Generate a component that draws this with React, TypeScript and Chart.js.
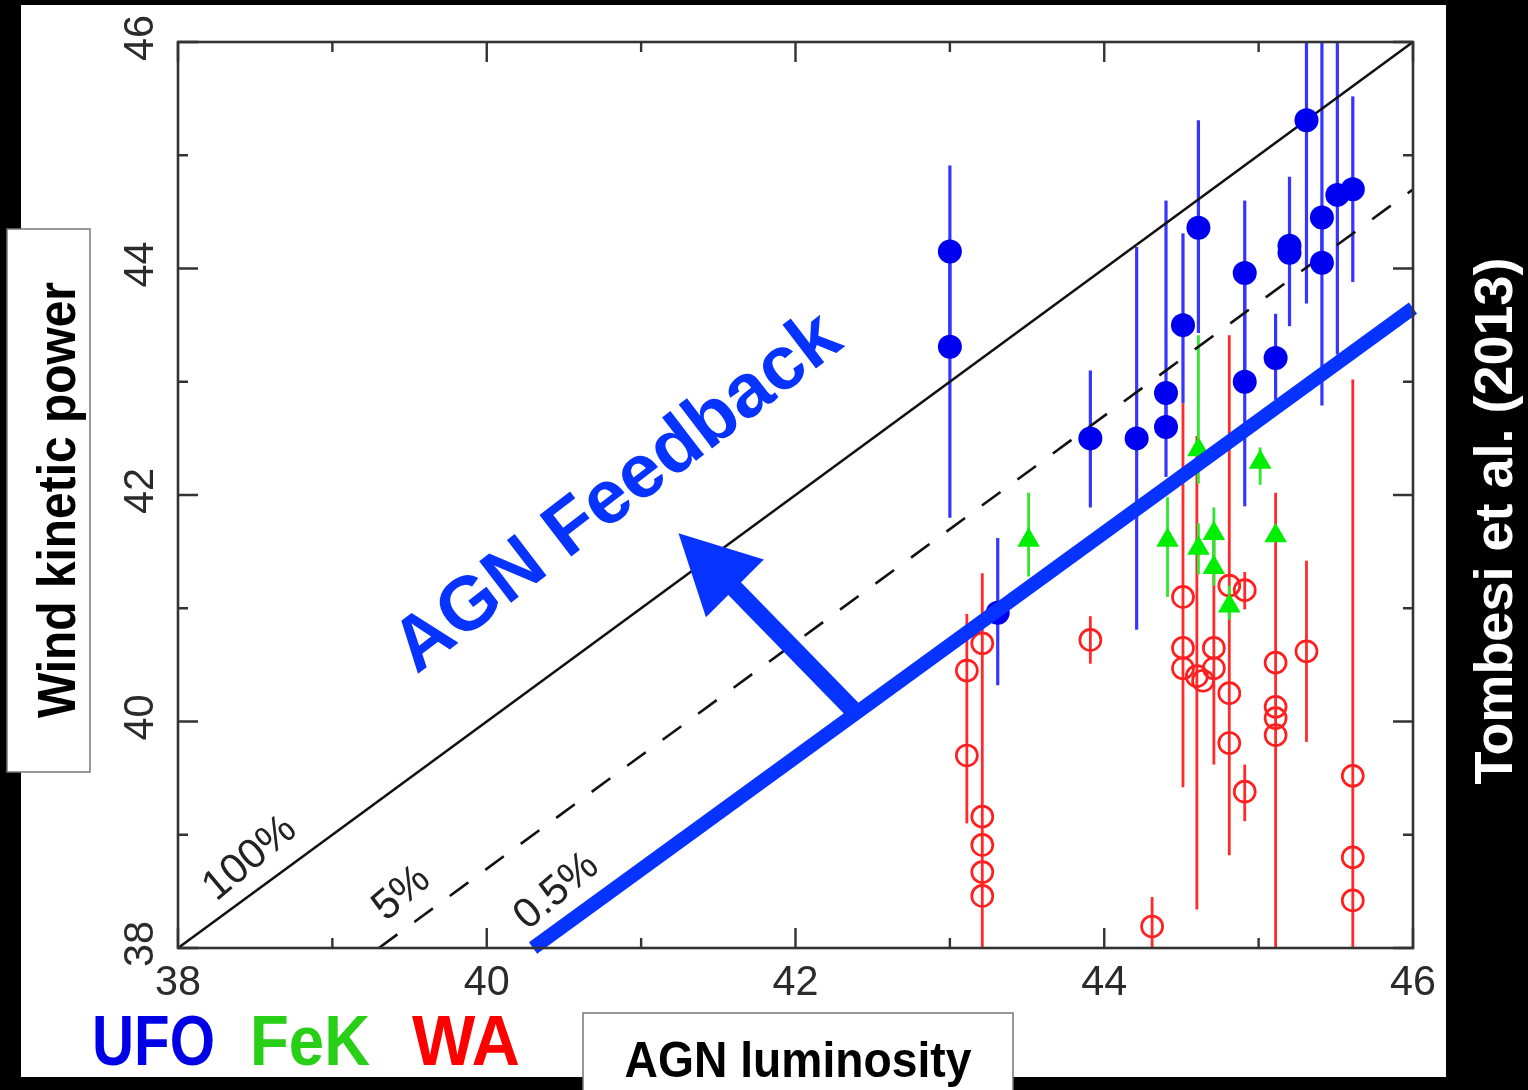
import React, { useEffect, useRef } from 'react';
import { Chart, registerables } from 'chart.js';

Chart.register(...registerables);

// ---------- axis ticks ----------
const tickValues = [38, 39, 40, 41, 42, 43, 44, 45, 46];
const xTickLabels = ['38', '', '40', '', '42', '', '44', '', '46'];
const yTickLabels = ['38', '', '40', '', '42', '', '44', '', '46'];

// ---------- UFO (blue filled circles) ----------
const ufoX = [43.0, 43.0, 43.31, 43.91, 44.21, 44.4, 44.4, 44.51, 44.61, 44.91, 44.91, 45.11, 45.2, 45.2, 45.31, 45.41, 45.41, 45.51, 45.61];
const ufoY = [44.15, 43.31, 40.96, 42.5, 42.5, 42.9, 42.6, 43.5, 44.36, 43.96, 43.0, 43.21, 44.2, 44.14, 45.31, 44.45, 44.05, 44.65, 44.7];
const ufoLo = [43.31, 41.8, 40.32, 41.89, 40.81, 42.6, 42.16, 42.81, 43.43, 43.0, 41.9, 42.84, 43.49, null, 43.69, 44.05, 42.79, 43.24, 43.88];
const ufoHi = [44.91, 44.15, 41.62, 43.1, 44.19, 44.6, 42.9, 44.31, 45.31, 44.6, 43.96, 43.6, 44.81, null, 46.5, 46.5, 44.45, 46.5, 45.52];

// ---------- FeK (green triangles) ----------
const fekX = [43.51, 44.41, 44.61, 44.61, 44.71, 44.71, 44.81, 45.01, 45.11];
const fekY = [41.6, 41.6, 42.4, 41.53, 41.66, 41.36, 41.02, 42.29, 41.64];
const fekLo = [41.28, 41.1, 42.1, 41.3, 41.4, 41.2, 40.9, 42.09, null];
const fekHi = [42.02, 41.98, 43.41, 41.75, 41.89, 41.66, 41.2, 42.42, null];

// ---------- WA (red open circles) ----------
const waX = [43.11, 43.11, 43.21, 43.21, 43.21, 43.21, 43.21, 43.91, 44.31, 44.51, 44.51, 44.51, 44.6, 44.64, 44.71, 44.71, 44.81, 44.81, 44.81, 44.91, 44.91, 45.11, 45.11, 45.11, 45.11, 45.31, 45.61, 45.61, 45.61];
const waY = [40.45, 39.7, 40.69, 39.16, 38.91, 38.67, 38.46, 40.72, 38.19, 41.1, 40.65, 40.47, 40.4, 40.36, 40.65, 40.47, 41.2, 40.25, 39.81, 41.16, 39.38, 40.52, 40.13, 40.03, 39.88, 40.62, 39.52, 38.8, 38.42];
const waLo = [39.1, null, 37.5, null, null, null, null, 40.51, 37.5, 39.42, null, null, 38.34, null, 39.62, null, 38.82, null, null, 40.99, 39.12, 37.5, null, null, null, 39.82, 37.5, null, null];
const waHi = [40.95, null, 41.31, null, null, null, null, 40.93, 38.45, 42.81, null, null, 42.52, null, 41.63, null, 43.41, null, null, 41.32, 39.62, 42.02, null, null, null, 41.42, 43.02, null, null];

// ---------- efficiency lines ----------
const line100X = [38, 46];
const line100Y = [38, 46];
const line5X = [39.301, 46];
const line5Y = [38, 44.699];
const line05X = [40.3, 46];
const line05Y = [38, 43.65];
const lineLabels = ['100%', '5%', '0.5%'];
const lineLabelX = [38.466, 39.449, 40.453];
const lineLabelY = [38.79, 38.48, 38.5];

// ---------- annotation ----------
const feedbackText = 'AGN Feedback';
const feedbackAnchor = [39.545, 40.41];
const arrowBase = [42.385, 40.084];
const arrowTip = [41.242, 41.662];
const arrowWingA = [41.42, 40.92];
const arrowWingB = [41.795, 41.43];

const legendLabels = ['UFO', 'FeK', 'WA'];
const legendColors = ['#0000e6', '#27cf17', '#ff0000'];

const FONT = '"Liberation Sans", Arial, Helvetica, sans-serif';

function pts(xs: number[], ys: number[]) {
  return xs.map((x, i) => ({ x, y: ys[i] }));
}

export default function App() {
  const ref = useRef<HTMLCanvasElement>(null);

  useEffect(() => {
    const canvas = ref.current;
    if (!canvas) return;

    const bgPlugin = {
      id: 'bg',
      beforeDraw(chart: any) {
        const ctx = chart.ctx;
        ctx.save();
        ctx.fillStyle = '#000';
        ctx.fillRect(0, 0, chart.width, chart.height);
        ctx.fillStyle = '#fff';
        ctx.fillRect(21, 5, 1425, 1072);
        ctx.restore();
      },
    };

    const errPlugin = {
      id: 'errbars',
      beforeDatasetsDraw(chart: any) {
        const ctx = chart.ctx;
        const xs = chart.scales.x;
        const ys = chart.scales.y;
        const a = chart.chartArea;
        ctx.save();
        ctx.beginPath();
        ctx.rect(a.left, a.top, a.right - a.left, a.bottom - a.top);
        ctx.clip();
        const draw = (X: number[], L: (number | null)[], H: (number | null)[], color: string, w: number) => {
          ctx.strokeStyle = color;
          ctx.lineWidth = w;
          ctx.lineCap = 'butt';
          X.forEach((x, i) => {
            const lo = L[i];
            const hi = H[i];
            if (lo == null || hi == null) return;
            const px = xs.getPixelForValue(x);
            ctx.beginPath();
            ctx.moveTo(px, ys.getPixelForValue(lo));
            ctx.lineTo(px, ys.getPixelForValue(hi));
            ctx.stroke();
          });
        };
        draw(waX, waLo, waHi, '#ff2b2b', 2.8);
        draw(fekX, fekLo, fekHi, '#2ee82e', 2.8);
        draw(ufoX, ufoLo, ufoHi, '#3535ff', 3.2);
        ctx.restore();
      },
    };

    const framePlugin = {
      id: 'frame',
      afterDatasetsDraw(chart: any) {
        const ctx = chart.ctx;
        const xs = chart.scales.x;
        const ys = chart.scales.y;
        const a = chart.chartArea;
        const PX = (v: number) => xs.getPixelForValue(v);
        const PY = (v: number) => ys.getPixelForValue(v);
        ctx.save();

        // frame
        ctx.strokeStyle = '#333';
        ctx.lineWidth = 2.6;
        ctx.strokeRect(a.left, a.top, a.right - a.left, a.bottom - a.top);

        // ticks (inward)
        ctx.lineWidth = 2.4;
        tickValues.forEach((v, i) => {
          const len = i % 2 === 0 ? 20 : 10;
          const px = PX(v);
          const py = PY(v);
          ctx.beginPath();
          ctx.moveTo(px, a.bottom);
          ctx.lineTo(px, a.bottom - len);
          ctx.moveTo(px, a.top);
          ctx.lineTo(px, a.top + len);
          ctx.moveTo(a.left, py);
          ctx.lineTo(a.left + len, py);
          ctx.moveTo(a.right, py);
          ctx.lineTo(a.right - len, py);
          ctx.stroke();
        });

        // tick labels
        ctx.fillStyle = '#2b2b2b';
        ctx.font = `42px ${FONT}`;
        ctx.textAlign = 'center';
        ctx.textBaseline = 'alphabetic';
        tickValues.forEach((v, i) => {
          if (xTickLabels[i]) ctx.fillText(xTickLabels[i], PX(v), a.bottom + 47, 46);
          if (yTickLabels[i]) {
            ctx.save();
            ctx.translate(a.left - 25, PY(v) - 4);
            ctx.rotate(-Math.PI / 2);
            ctx.fillText(yTickLabels[i], 0, 0, 46);
            ctx.restore();
          }
        });

        // efficiency line labels
        ctx.font = `42px ${FONT}`;
        ctx.fillStyle = '#222';
        ctx.textBaseline = 'middle';
        lineLabels.forEach((t, i) => {
          ctx.save();
          ctx.translate(PX(lineLabelX[i]), PY(lineLabelY[i]));
          ctx.rotate((-40 * Math.PI) / 180);
          ctx.fillText(t, 0, 0);
          ctx.restore();
        });

        // arrow
        const blue = '#0633ff';
        const bx = PX(arrowBase[0]);
        const by = PY(arrowBase[1]);
        const tx = PX(arrowTip[0]);
        const ty = PY(arrowTip[1]);
        const ax = PX(arrowWingA[0]);
        const ay = PY(arrowWingA[1]);
        const cx = PX(arrowWingB[0]);
        const cy = PY(arrowWingB[1]);
        ctx.strokeStyle = blue;
        ctx.fillStyle = blue;
        ctx.lineWidth = 18;
        ctx.lineCap = 'butt';
        ctx.beginPath();
        ctx.moveTo(bx, by);
        ctx.lineTo((ax + cx) / 2 + (tx - (ax + cx) / 2) * 0.15, (ay + cy) / 2 + (ty - (ay + cy) / 2) * 0.15);
        ctx.stroke();
        ctx.beginPath();
        ctx.moveTo(tx, ty);
        ctx.lineTo(ax, ay);
        ctx.lineTo(cx, cy);
        ctx.closePath();
        ctx.fill();

        // AGN Feedback text
        ctx.save();
        ctx.translate(PX(feedbackAnchor[0]), PY(feedbackAnchor[1]));
        ctx.rotate((-37.5 * Math.PI) / 180);
        ctx.font = `bold 76px ${FONT}`;
        ctx.textAlign = 'left';
        ctx.textBaseline = 'alphabetic';
        ctx.fillText(feedbackText, 0, 0, 570);
        ctx.restore();

        // axis title boxes
        ctx.fillStyle = '#fff';
        ctx.strokeStyle = '#777';
        ctx.lineWidth = 1.5;
        ctx.fillRect(7, 229, 83, 543);
        ctx.strokeRect(7, 229, 83, 543);
        ctx.fillRect(583, 1013, 430, 90);
        ctx.strokeRect(583, 1013, 430, 90);

        ctx.fillStyle = '#000';
        ctx.font = `bold 54px ${FONT}`;
        ctx.textAlign = 'center';
        ctx.textBaseline = 'alphabetic';
        ctx.save();
        ctx.translate(75, 500);
        ctx.rotate(-Math.PI / 2);
        ctx.fillText('Wind kinetic power', 0, 0, 436);
        ctx.restore();

        ctx.font = `bold 50px ${FONT}`;
        ctx.fillText('AGN luminosity', 798, 1077, 347);

        // citation
        ctx.fillStyle = '#fff';
        ctx.font = `bold 54px ${FONT}`;
        ctx.save();
        ctx.translate(1512, 521);
        ctx.rotate(-Math.PI / 2);
        ctx.fillText('Tombesi et al. (2013)', 0, 0, 537);
        ctx.restore();

        // legend words
        const lx = [92, 250, 412];
        const lw = [123, 120, 108];
        ctx.font = `bold 70px ${FONT}`;
        ctx.textAlign = 'left';
        legendLabels.forEach((t, i) => {
          ctx.fillStyle = legendColors[i];
          ctx.fillText(t, lx[i], 1065, lw[i]);
        });

        ctx.restore();
      },
    };

    const chart = new Chart(canvas, {
      type: 'scatter',
      data: {
        datasets: [
          {
            label: '0.5%',
            data: pts(line05X, line05Y),
            showLine: true,
            borderColor: '#0633ff',
            borderWidth: 14,
            pointRadius: 0,
            clip: false,
            order: 0,
          } as any,
          {
            label: 'UFO',
            data: pts(ufoX, ufoY),
            pointStyle: 'circle',
            pointRadius: 12,
            backgroundColor: '#0000f0',
            borderWidth: 0,
            order: 1,
          },
          {
            label: 'FeK',
            data: pts(fekX, fekY),
            pointStyle: 'triangle',
            pointRadius: 13,
            backgroundColor: '#00ee00',
            borderWidth: 0,
            order: 2,
          },
          {
            label: 'WA',
            data: pts(waX, waY),
            pointStyle: 'circle',
            pointRadius: 10.5,
            backgroundColor: 'rgba(0,0,0,0)',
            borderColor: '#ff1f1f',
            borderWidth: 2.7,
            order: 3,
          },
          {
            label: '100%',
            data: pts(line100X, line100Y),
            showLine: true,
            borderColor: '#111',
            borderWidth: 2.6,
            pointRadius: 0,
            order: 4,
          },
          {
            label: '5%',
            data: pts(line5X, line5Y),
            showLine: true,
            borderColor: '#111',
            borderWidth: 2.6,
            borderDash: [23, 21],
            pointRadius: 0,
            order: 5,
          },
        ],
      },
      options: {
        animation: false,
        responsive: false,
        maintainAspectRatio: false,
        events: [],
        layout: { padding: { left: 20, top: 42, right: 115, bottom: 62 } },
        plugins: {
          legend: { display: false },
          tooltip: { enabled: false },
        },
        scales: {
          x: {
            type: 'linear',
            min: 38,
            max: 46,
            ticks: { display: false },
            grid: { display: false },
            border: { display: false },
            afterFit: (s: any) => {
              s.height = 80;
            },
          },
          y: {
            type: 'linear',
            min: 38,
            max: 46,
            ticks: { display: false },
            grid: { display: false },
            border: { display: false },
            afterFit: (s: any) => {
              s.width = 158;
            },
          },
        },
      },
      plugins: [bgPlugin, errPlugin, framePlugin],
    } as any);

    return () => chart.destroy();
  }, []);

  return (
    <div style={{ position: 'absolute', left: 0, top: 0, width: 1528, height: 1090, background: '#000' }}>
      <canvas ref={ref} width={1528} height={1090} style={{ display: 'block', width: 1528, height: 1090 }} />
    </div>
  );
}
